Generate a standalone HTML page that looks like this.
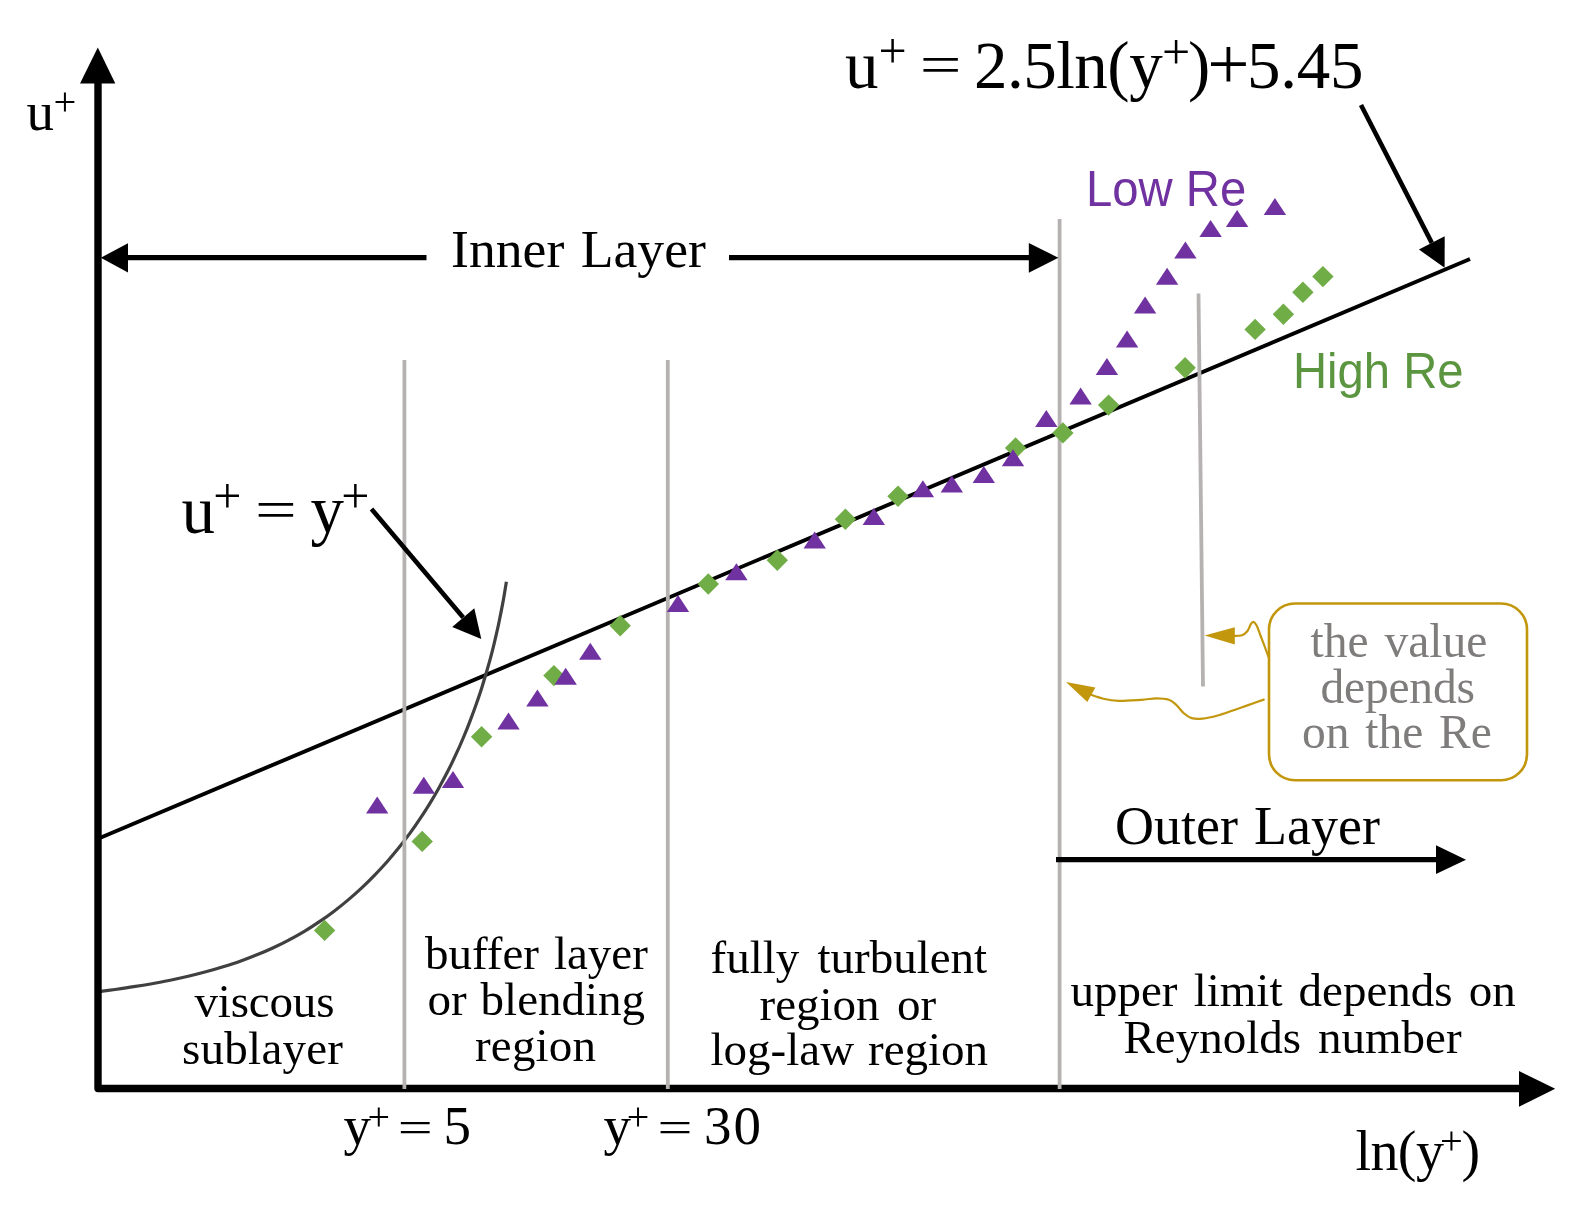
<!DOCTYPE html>
<html lang="en"><head><meta charset="utf-8"><title>Law of the wall</title>
<style>html,body{margin:0;padding:0;background:#fff}svg{display:block}.s{font-family:"Liberation Serif",serif}.n{font-family:"Liberation Sans",sans-serif}</style></head><body>
<svg width="1575" height="1218" viewBox="0 0 1575 1218">
<defs><filter id="soft" x="0" y="0" width="1575" height="1218" filterUnits="userSpaceOnUse"><feGaussianBlur stdDeviation="0.55"/></filter></defs>
<rect width="1575" height="1218" fill="#fff"/>
<g filter="url(#soft)">
<line x1="98" y1="838.8" x2="1470" y2="259" stroke="#000" stroke-width="3.9"/>
<path d="M96.6 991.9 C99.7 991.5 109.0 990.3 115.2 989.5 C121.4 988.6 127.6 987.7 133.7 986.7 C139.8 985.8 146.0 984.8 152.0 983.7 C158.1 982.6 164.2 981.4 170.2 980.2 C176.2 979.0 182.2 977.7 188.1 976.3 C194.0 974.9 199.9 973.4 205.8 971.8 C211.6 970.3 217.4 968.6 223.1 966.8 C228.9 965.0 234.6 963.2 240.2 961.2 C245.8 959.2 251.4 957.1 256.9 954.8 C262.4 952.6 267.9 950.2 273.3 947.7 C278.7 945.2 284.0 942.6 289.2 939.8 C294.5 937.1 299.7 934.1 304.8 931.1 C309.9 928.0 314.9 924.8 319.8 921.4 C324.8 918.1 329.7 914.5 334.4 910.9 C339.2 907.3 343.9 903.5 348.5 899.6 C353.1 895.7 357.6 891.7 362.0 887.6 C366.4 883.4 370.7 879.2 374.9 874.8 C379.2 870.5 383.3 866.0 387.3 861.5 C391.3 856.9 395.2 852.3 399.0 847.6 C402.8 842.8 406.4 838.0 410.0 833.1 C413.6 828.3 417.1 823.3 420.4 818.2 C423.8 813.2 427.0 808.1 430.2 802.9 C433.3 797.7 436.4 792.5 439.3 787.2 C442.3 781.9 445.1 776.5 447.9 771.1 C450.6 765.7 453.3 760.2 455.8 754.7 C458.4 749.2 460.9 743.6 463.2 738.0 C465.6 732.4 467.9 726.8 470.0 721.1 C472.2 715.4 474.3 709.7 476.3 704.0 C478.3 698.3 480.3 692.5 482.1 686.7 C483.9 680.9 485.7 675.1 487.3 669.3 C489.0 663.5 490.6 657.6 492.1 651.8 C493.6 646.0 495.0 640.1 496.3 634.3 C497.7 628.4 499.0 622.6 500.1 616.7 C501.3 610.9 502.4 605.0 503.5 599.2 C504.5 593.4 505.9 584.7 506.4 581.7" fill="none" stroke="#404040" stroke-width="3.2"/>
<path d="M98 80 L98 1088.5 L1522 1088.5" fill="none" stroke="#000" stroke-width="7.4" stroke-linejoin="round"/>
<g stroke="#b6b2b1" stroke-width="3.8" fill="none">
<line x1="404.4" y1="360" x2="404.4" y2="1089"/>
<line x1="667.8" y1="360" x2="667.8" y2="1089"/>
<line x1="1059.6" y1="219" x2="1059.6" y2="1089"/>
<line x1="1198.5" y1="293.5" x2="1203" y2="686.5"/>
</g>
<polygon points="97.8,47.5 115.3,83.6 80,83.6" fill="#000"/>
<polygon points="1555.2,1088.8 1519,1071 1519,1106.7" fill="#000"/>
<g stroke="#000" stroke-width="5.2" fill="none">
<line x1="125" y1="257.7" x2="426.5" y2="257.7"/><line x1="729" y1="257.7" x2="1032" y2="257.7"/>
<line x1="1056" y1="859.7" x2="1438" y2="859.7"/>
</g>
<polygon points="100.8,257.8 128,243.2 128,272.6" fill="#000"/>
<polygon points="1058.4,257.8 1028.8,243.1 1028.8,272.7" fill="#000"/>
<polygon points="1466,859.7 1436,845.3 1436,874.1" fill="#000"/>
<line x1="1361.0" y1="105.0" x2="1431.8" y2="242.9" stroke="#000" stroke-width="4.6"/>
<polygon points="1444.6,267.8 1418.9,249.5 1444.7,236.3" fill="#000"/>
<line x1="371.5" y1="509.0" x2="463.2" y2="617.6" stroke="#000" stroke-width="4.6"/>
<polygon points="481.3,639.0 452.2,627.0 474.3,608.3" fill="#000"/>
<g fill="#70AD47">
<polygon points="324.6,919.7 335.3,930.4 324.6,941.1 313.9,930.4"/>
<polygon points="422.2,830.7 432.9,841.4 422.2,852.1 411.5,841.4"/>
<polygon points="481.6,726.0 492.3,736.7 481.6,747.4 470.9,736.7"/>
<polygon points="553.9,664.9 564.6,675.6 553.9,686.3 543.2,675.6"/>
<polygon points="620.2,615.0 630.9,625.7 620.2,636.4 609.5,625.7"/>
<polygon points="708.3,573.3 719.0,584.0 708.3,594.7 697.6,584.0"/>
<polygon points="777.3,549.6 788.0,560.3 777.3,571.0 766.6,560.3"/>
<polygon points="845.4,508.5 856.1,519.2 845.4,529.9 834.7,519.2"/>
<polygon points="898.0,485.6 908.7,496.3 898.0,507.0 887.3,496.3"/>
<polygon points="1015.6,437.3 1026.3,448.0 1015.6,458.7 1004.9,448.0"/>
<polygon points="1062.9,422.2 1073.6,432.9 1062.9,443.6 1052.2,432.9"/>
<polygon points="1108.6,394.4 1119.3,405.1 1108.6,415.8 1097.9,405.1"/>
<polygon points="1185.1,357.0 1195.8,367.7 1185.1,378.4 1174.4,367.7"/>
<polygon points="1255.1,318.7 1265.8,329.4 1255.1,340.1 1244.4,329.4"/>
<polygon points="1283.4,303.6 1294.1,314.3 1283.4,325.0 1272.7,314.3"/>
<polygon points="1302.9,281.6 1313.6,292.3 1302.9,303.0 1292.2,292.3"/>
<polygon points="1322.9,265.9 1333.6,276.6 1322.9,287.3 1312.2,276.6"/>
</g>
<g fill="#7030A0">
<polygon points="377.2,796.5 388.4,813.5 366.0,813.5"/>
<polygon points="423.8,776.8 435.0,793.8 412.6,793.8"/>
<polygon points="453.0,770.9 464.2,787.9 441.8,787.9"/>
<polygon points="508.5,712.5 519.7,729.5 497.3,729.5"/>
<polygon points="537.4,689.5 548.6,706.5 526.2,706.5"/>
<polygon points="565.7,667.8 576.9,684.8 554.5,684.8"/>
<polygon points="590.3,642.8 601.5,659.8 579.1,659.8"/>
<polygon points="678.0,595.0 689.2,612.0 666.8,612.0"/>
<polygon points="736.4,563.2 747.6,580.2 725.2,580.2"/>
<polygon points="814.7,531.5 825.9,548.5 803.5,548.5"/>
<polygon points="873.8,507.9 885.0,524.9 862.6,524.9"/>
<polygon points="922.9,480.2 934.1,497.2 911.7,497.2"/>
<polygon points="951.8,475.6 963.0,492.6 940.6,492.6"/>
<polygon points="983.8,466.0 995.0,483.0 972.6,483.0"/>
<polygon points="1013.0,449.2 1024.2,466.2 1001.8,466.2"/>
<polygon points="1046.3,410.0 1057.5,427.0 1035.1,427.0"/>
<polygon points="1080.6,387.5 1091.8,404.5 1069.4,404.5"/>
<polygon points="1106.9,358.1 1118.1,375.1 1095.7,375.1"/>
<polygon points="1127.1,330.4 1138.3,347.4 1115.9,347.4"/>
<polygon points="1145.1,296.6 1156.3,313.6 1133.9,313.6"/>
<polygon points="1167.1,267.8 1178.3,284.8 1155.9,284.8"/>
<polygon points="1185.4,241.5 1196.6,258.5 1174.2,258.5"/>
<polygon points="1210.6,220.1 1221.8,237.1 1199.4,237.1"/>
<polygon points="1237.1,210.1 1248.3,227.1 1225.9,227.1"/>
<polygon points="1274.9,198.1 1286.1,215.1 1263.7,215.1"/>
</g>
<rect x="1269" y="603.5" width="258" height="176.8" rx="26" ry="26" fill="#fff" stroke="#C2970D" stroke-width="2.6"/>
<g fill="none" stroke="#C2970D" stroke-width="2.2" stroke-linecap="round" stroke-linejoin="round">
<path d="M1268.6 657.0 C1267.9 655.2 1265.8 649.6 1264.5 646.0 C1263.2 642.4 1261.8 639.0 1260.5 635.5 C1259.2 632.0 1257.7 627.6 1256.5 625.3 C1255.3 623.0 1254.4 622.0 1253.4 621.8 C1252.5 621.6 1251.8 622.6 1250.8 624.2 C1249.8 625.8 1248.8 629.4 1247.3 631.2 C1245.8 633.0 1244.4 634.4 1242.0 635.2 C1239.6 636.0 1234.5 635.7 1233.0 635.8"/>
<path d="M1263.8 699.6 C1261.2 700.5 1253.2 703.3 1248.1 705.1 C1242.9 706.9 1238.0 708.8 1232.9 710.5 C1227.8 712.2 1222.7 714.1 1217.6 715.5 C1212.5 716.9 1206.7 718.2 1202.4 718.6 C1198.1 719.0 1194.8 719.0 1191.7 718.1 C1188.7 717.2 1186.6 715.7 1184.1 713.5 C1181.6 711.3 1179.0 707.4 1176.5 705.1 C1174.0 702.8 1172.2 700.9 1168.9 699.8 C1165.6 698.7 1161.3 698.3 1156.7 698.3 C1152.1 698.3 1147.8 699.4 1141.4 699.8 C1135.1 700.2 1124.9 701.1 1118.6 700.9 C1112.2 700.7 1108.1 699.8 1103.3 698.7 C1098.5 697.6 1092.2 695.2 1090.0 694.5"/>
</g>
<polygon points="1204.5,635.4 1234.8,627.2 1234.8,644.6" fill="#C2970D"/>
<polygon points="1066,682 1095.4,687.6 1087.3,702.1" fill="#C2970D"/>
<text class="s" font-size="67" fill="#000" x="845.0" y="87.7">u</text>
<text class="s" font-size="50" fill="#000" x="892.5" y="68.3" text-anchor="middle">+</text>
<text class="s" font-size="74" fill="#000" transform="translate(940.7,65.5) scale(1,0.73)" x="0" y="24.6" text-anchor="middle">=</text>
<text class="s" font-size="67" fill="#000" x="974.0" y="87.7" letter-spacing="-0.500">2.5ln(y</text>
<text class="s" font-size="50" fill="#000" x="1176.2" y="68.6" text-anchor="middle">+</text>
<text class="s" font-size="67" fill="#000" x="1188.0" y="87.7">)</text>
<text class="s" font-size="75" fill="#000" x="1228.5" y="89.3" text-anchor="middle">+</text>
<text class="s" font-size="67" fill="#000" x="1247.0" y="87.7" letter-spacing="-0.267">5.45</text>
<text class="s" font-size="67" fill="#000" x="181.5" y="532.6">u</text>
<text class="s" font-size="50" fill="#000" x="227.4" y="513.2" text-anchor="middle">+</text>
<text class="s" font-size="74" fill="#000" transform="translate(275.9,510.3) scale(1,0.73)" x="0" y="24.6" text-anchor="middle">=</text>
<text class="s" font-size="67" fill="#000" x="310.5" y="532.6">y</text>
<text class="s" font-size="50" fill="#000" x="355.4" y="513.2" text-anchor="middle">+</text>
<text class="s" font-size="55" fill="#000" x="26.5" y="130.0">u</text>
<text class="s" font-size="40.5" fill="#000" x="64.9" y="114.6" text-anchor="middle">+</text>
<text class="s" font-size="55" fill="#000" x="343.5" y="1144.0">y</text>
<text class="s" font-size="40" fill="#000" x="378.7" y="1130.4" text-anchor="middle">+</text>
<text class="s" font-size="62" fill="#000" transform="translate(415.3,1127.1) scale(1,0.73)" x="0" y="20.6" text-anchor="middle">=</text>
<text class="s" font-size="55" fill="#000" x="443.5" y="1144.0">5</text>
<text class="s" font-size="55" fill="#000" x="603.5" y="1144.0">y</text>
<text class="s" font-size="40" fill="#000" x="638.1" y="1130.4" text-anchor="middle">+</text>
<text class="s" font-size="62" fill="#000" transform="translate(674.9,1127.1) scale(1,0.73)" x="0" y="20.6" text-anchor="middle">=</text>
<text class="s" font-size="55" fill="#000" x="704.0" y="1144.0" letter-spacing="2.000">30</text>
<text class="s" font-size="56" fill="#000" x="1355.5" y="1170.0" letter-spacing="-0.600">ln(y</text>
<text class="s" font-size="40.5" fill="#000" x="1451.5" y="1154.4" text-anchor="middle">+</text>
<text class="s" font-size="56" fill="#000" x="1461.5" y="1170.0">)</text>
<text class="s" font-size="53.7" fill="#000" x="451.0" y="267.0" word-spacing="3.00">Inner Layer</text>
<text class="s" font-size="54" fill="#000" x="1115.0" y="844.0" word-spacing="2.60">Outer Layer</text>
<text class="s" font-size="47" fill="#000" x="194.5" y="1017.1" letter-spacing="-0.167">viscous</text>
<text class="s" font-size="47" fill="#000" x="182.0" y="1063.8" letter-spacing="0.257">sublayer</text>
<text class="s" font-size="47" fill="#000" x="425.0" y="969.1" word-spacing="3.20">buffer layer</text>
<text class="s" font-size="47" fill="#000" x="427.5" y="1014.7" word-spacing="2.20">or blending</text>
<text class="s" font-size="47" fill="#000" x="475.0" y="1061.0" letter-spacing="0.200">region</text>
<text class="s" font-size="47" fill="#000" x="710.5" y="973.2" word-spacing="6.40">fully turbulent</text>
<text class="s" font-size="47" fill="#000" x="759.5" y="1019.6" word-spacing="5.80">region or</text>
<text class="s" font-size="47" fill="#000" x="710.5" y="1064.7" word-spacing="2.20">log-law region</text>
<text class="s" font-size="47" fill="#000" x="1070.5" y="1006.1" word-spacing="4.40">upper limit depends on</text>
<text class="s" font-size="47" fill="#000" x="1123.5" y="1053.0" word-spacing="5.20">Reynolds number</text>
<text class="s" font-size="47.5" fill="#7f7b7b" x="1310.5" y="656.6" word-spacing="4.00">the value</text>
<text class="s" font-size="47.5" fill="#7f7b7b" x="1320.5" y="702.8" letter-spacing="-0.200">depends</text>
<text class="s" font-size="47.5" fill="#7f7b7b" x="1302.0" y="748.4" word-spacing="3.90">on the Re</text>
<text class="n" font-size="49.5" fill="#7030A0" x="1086.0" y="205.7" textLength="160.2" lengthAdjust="spacingAndGlyphs">Low Re</text>
<text class="n" font-size="49.5" fill="#5b9540" x="1293.0" y="387.7" textLength="170.6" lengthAdjust="spacingAndGlyphs">High Re</text>
</g>
</svg></body></html>
